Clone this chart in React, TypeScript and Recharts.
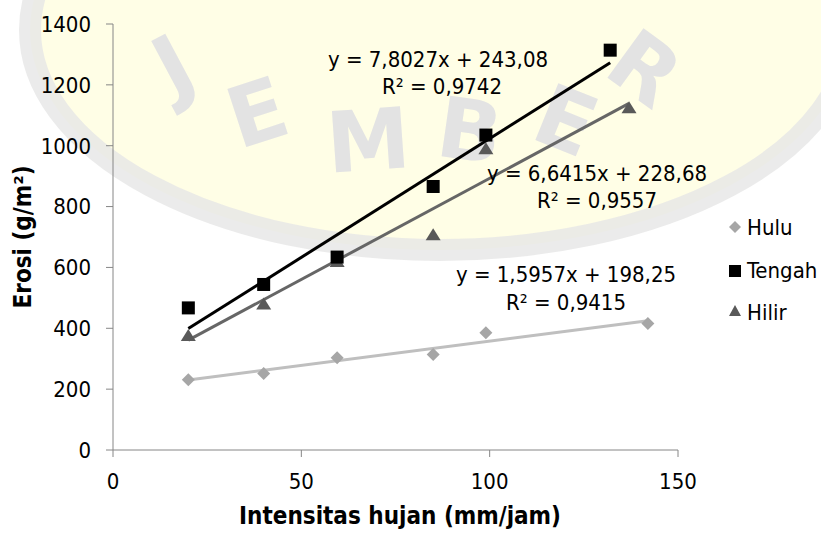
import React from 'react';
import { ScatterChart, Scatter, XAxis, YAxis } from 'recharts';

// Measured values (Intensitas hujan mm/jam vs Erosi g/m²)
const huluX = [20, 40, 59.5, 85, 99, 142];
const huluY = [231, 251, 303, 314, 385, 416];
const tengahX = [20, 40, 59.5, 85, 99, 132];
const tengahY = [467, 544, 634, 866, 1035, 1314];
const hilirX = [20, 40, 59.5, 85, 99, 137];
const hilirY = [375, 478, 618, 706, 988, 1123];

// Trendline end points
const huluTrendX = [20, 142];
const huluTrendY = [230, 425];
const tengahTrendX = [20, 132];
const tengahTrendY = [399, 1273];
const hilirTrendX = [20, 137];
const hilirTrendY = [361, 1139];

const xTicks = [0, 50, 100, 150];
const yTicks = [0, 200, 400, 600, 800, 1000, 1200, 1400];

const seriesNames = ['Hulu', 'Tengah', 'Hilir'];
const equations = [
  ['y = 7,8027x + 243,08', 'R² = 0,9742'],
  ['y = 6,6415x + 228,68', 'R² = 0,9557'],
  ['y = 1,5957x + 198,25', 'R² = 0,9415'],
];
const xTitle = 'Intensitas hujan (mm/jam)';
const yTitle = 'Erosi (g/m²)';
const watermarkLetters = ['J', 'E', 'M', 'B', 'E', 'R'];

const toPts = (xs: number[], ys: number[]) => xs.map((x, i) => ({ x, y: ys[i] }));

const W = 821;
const H = 534;
const FONT = "'DejaVu Sans Condensed', 'DejaVu Sans', sans-serif";
const AXIS = '#868686';
const HULU = '#A6A6A6';
const HULU_LINE = '#BFBFBF';
const TENGAH = '#000000';
const HILIR = '#595959';
const HILIR_LINE = '#666666';

const Diamond = (p: any) => {
  const { cx, cy } = p;
  const r = 6.5;
  return <polygon points={`${cx},${cy - r} ${cx + r},${cy} ${cx},${cy + r} ${cx - r},${cy}`} fill={HULU} />;
};
const Square = (p: any) => {
  const { cx, cy } = p;
  return <rect x={cx - 6.5} y={cy - 6.5} width={13} height={13} fill={TENGAH} />;
};
const Triangle = (p: any) => {
  const { cx, cy } = p;
  return <polygon points={`${cx},${cy - 7} ${cx + 7.5},${cy + 5} ${cx - 7.5},${cy + 5}`} fill={HILIR} />;
};
const NoShape = () => <g />;

const letterPos = [
  { x: 173, y: 95, r: -28 },
  { x: 257, y: 142, r: -18 },
  { x: 368, y: 170, r: -4 },
  { x: 470, y: 160, r: 8 },
  { x: 566, y: 150, r: 22 },
  { x: 645, y: 98, r: 36 },
];

const Watermark = () => (
  <svg width={W} height={H} style={{ position: 'absolute', left: 0, top: 0 }}>
    <rect x={0} y={0} width={W} height={H} fill="#ffffff" />
    <ellipse cx={440} cy={30} rx={410} ry={220} fill="#FFFEE6" stroke="#E6E6E6" strokeWidth={22} strokeOpacity={0.8} />
    {watermarkLetters.map((l, i) => (
      <text
        key={i}
        x={letterPos[i].x}
        y={letterPos[i].y}
        fontSize={84}
        fontWeight="bold"
        fontFamily="'DejaVu Sans', sans-serif"
        fill="#E3E3E3"
        textAnchor="middle"
        transform={`rotate(${letterPos[i].r} ${letterPos[i].x} ${letterPos[i].y - 30})`}
      >
        {l}
      </text>
    ))}
  </svg>
);

const Overlay = () => {
  const txt = { fontFamily: FONT, fontSize: 22, fill: '#000' } as const;
  return (
    <svg width={W} height={H} style={{ position: 'absolute', left: 0, top: 0, pointerEvents: 'none' }}>
      {/* equations */}
      <text x={438} y={67} textAnchor="middle" {...txt}>{equations[0][0]}</text>
      <text x={442} y={94} textAnchor="middle" {...txt}>{equations[0][1]}</text>
      <text x={597} y={181} textAnchor="middle" {...txt}>{equations[1][0]}</text>
      <text x={597} y={208} textAnchor="middle" {...txt}>{equations[1][1]}</text>
      <text x={566} y={282} textAnchor="middle" {...txt}>{equations[2][0]}</text>
      <text x={566} y={310} textAnchor="middle" {...txt}>{equations[2][1]}</text>
      {/* axis titles */}
      <text x={400} y={524} textAnchor="middle" fontFamily={FONT} fontSize={24} fontWeight="bold" fill="#000">{xTitle}</text>
      <text x={0} y={0} textAnchor="middle" fontFamily={FONT} fontSize={24} fontWeight="bold" fill="#000" transform="translate(31 237) rotate(-90)">{yTitle}</text>
      {/* legend */}
      <polygon points="735,221 741,227 735,233 729,227" fill={HULU} />
      <text x={747} y={235} {...txt}>{seriesNames[0]}</text>
      <rect x={729} y={265} width={12} height={12} fill={TENGAH} />
      <text x={747} y={278} {...txt}>{seriesNames[1]}</text>
      <polygon points="735,305 741,316 729,316" fill={HILIR} />
      <text x={747} y={320} {...txt}>{seriesNames[2]}</text>
    </svg>
  );
};

export default function App() {
  return (
    <div style={{ position: 'absolute', left: 0, top: 0, width: W, height: H }}>
      <Watermark />
      <div style={{ position: 'absolute', left: 0, top: 0 }}>
        <ScatterChart width={W} height={H} margin={{ top: 24, right: 143, bottom: 44, left: 53 }}>
          <XAxis
            type="number"
            dataKey="x"
            domain={[0, 150]}
            ticks={xTicks}
            interval={0}
            height={40}
            tickSize={7}
            tickMargin={16}
            stroke={AXIS}
            tick={{ fill: '#000', fontSize: 22, fontFamily: FONT }}
            tickLine={{ stroke: AXIS }}
          />
          <YAxis
            type="number"
            dataKey="y"
            domain={[0, 1400]}
            ticks={yTicks}
            interval={0}
            width={60}
            tickSize={7}
            tickMargin={15}
            stroke={AXIS}
            tick={{ fill: '#000', fontSize: 22, fontFamily: FONT }}
            tickLine={{ stroke: AXIS }}
          />
          <Scatter name="Hulu trend" data={toPts(huluTrendX, huluTrendY)} line={{ stroke: HULU_LINE, strokeWidth: 3 }} shape={NoShape} isAnimationActive={false} legendType="none" />
          <Scatter name="Hilir trend" data={toPts(hilirTrendX, hilirTrendY)} line={{ stroke: HILIR_LINE, strokeWidth: 3 }} shape={NoShape} isAnimationActive={false} legendType="none" />
          <Scatter name="Tengah trend" data={toPts(tengahTrendX, tengahTrendY)} line={{ stroke: TENGAH, strokeWidth: 3 }} shape={NoShape} isAnimationActive={false} legendType="none" />
          <Scatter name={seriesNames[0]} data={toPts(huluX, huluY)} shape={Diamond} isAnimationActive={false} />
          <Scatter name={seriesNames[2]} data={toPts(hilirX, hilirY)} shape={Triangle} isAnimationActive={false} />
          <Scatter name={seriesNames[1]} data={toPts(tengahX, tengahY)} shape={Square} isAnimationActive={false} />
        </ScatterChart>
      </div>
      <Overlay />
    </div>
  );
}
